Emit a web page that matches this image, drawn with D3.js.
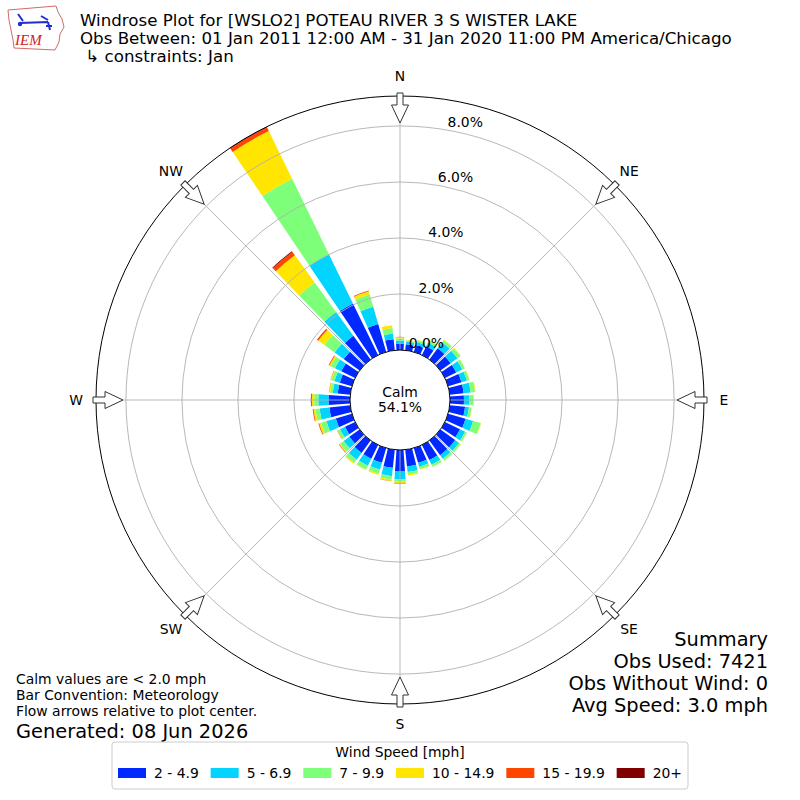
<!DOCTYPE html>
<html>
<head>
<meta charset="utf-8">
<script src="https://cdn.jsdelivr.net/npm/d3@7"></script>
<style>
	body { margin: 0; background: white; }
	text { font-family: "DejaVu Sans", sans-serif; }
</style>
</head>
<body>
<svg id="rose"></svg>
<script>
// direction bin centres, degrees (meteorological, clockwise from N)
const directions = [0, 10, 20, 30, 40, 50, 60, 70, 80, 90, 100, 110, 120, 130, 140, 150, 160, 170,
	180, 190, 200, 210, 220, 230, 240, 250, 260, 270, 280, 290, 300, 310, 320, 330, 340, 350];

const speedBins = ["2 - 4.9", "5 - 6.9", "7 - 9.9", "10 - 14.9", "15 - 19.9", "20+"];
const binColors = ["#0028ff", "#00d4ff", "#7dff7a", "#ffe500", "#ff4600", "#800000"];

// percent of observations, per direction, per speed bin
const speed2to5 = [0.22, 0.22, 0.26, 0.35, 0.5, 0.45, 0.45, 0.5, 0.5, 0.5, 0.55, 0.65, 0.6, 0.65, 0.65, 0.6, 0.55, 0.6,
	0.77, 0.65, 0.55, 0.55, 0.55, 0.45, 0.4, 0.6, 0.75, 0.77, 0.45, 0.45, 0.55, 0.7, 1.05, 2.05, 1.04, 0.4];
const speed5to7 = [0.12, 0.09, 0.11, 0.15, 0.26, 0.3, 0.24, 0.2, 0.25, 0.2, 0.14, 0.28, 0.2, 0.17, 0.16, 0.19, 0.15, 0.2,
	0.28, 0.3, 0.25, 0.28, 0.3, 0.25, 0.2, 0.35, 0.35, 0.36, 0.18, 0.2, 0.25, 0.4, 1.05, 1.95, 0.64, 0.2];
const speed7to10 = [0.08, 0.05, 0.06, 0.08, 0.1, 0.13, 0.1, 0.09, 0.16, 0.14, 0.09, 0.28, 0.07, 0.07, 0.08, 0.08, 0.08, 0.08,
	0.08, 0.12, 0.15, 0.15, 0.15, 0.17, 0.1, 0.2, 0.15, 0.15, 0.09, 0.1, 0.17, 0.45, 1.3, 3.0, 0.46, 0.2];
const speed10to15 = [0.04, 0.02, 0.02, 0.02, 0.02, 0.02, 0.01, 0.01, 0.02, 0.01, 0.01, 0.02, 0.01, 0.01, 0.01, 0.01, 0.02, 0.05,
	0.05, 0.05, 0.05, 0.02, 0.03, 0.03, 0.01, 0.07, 0.07, 0.08, 0.04, 0.04, 0.05, 0.27, 1.2, 1.9, 0.11, 0.1];
const speed15to20 = [0.01, 0, 0, 0, 0, 0, 0, 0, 0, 0, 0, 0, 0, 0, 0, 0, 0, 0,
	0.02, 0.01, 0, 0, 0, 0.02, 0.01, 0.03, 0.03, 0.03, 0.01, 0.01, 0.03, 0.06, 0.15, 0.15, 0.03, 0];
const speed20up = [0, 0, 0, 0, 0, 0, 0, 0, 0, 0, 0, 0, 0, 0, 0, 0, 0, 0,
	0, 0, 0, 0, 0, 0, 0, 0, 0, 0.01, 0, 0, 0, 0, 0.03, 0.02, 0, 0];

const ringTicks = [0, 2, 4, 6, 8];
const compassLabels = ["N", "NE", "E", "SE", "S", "SW", "W", "NW"];
const compassAngles = [0, 45, 90, 135, 180, 225, 270, 315];

const titleLines = [
	"Windrose Plot for [WSLO2] POTEAU RIVER 3 S WISTER LAKE",
	"Obs Between: 01 Jan 2011 12:00 AM - 31 Jan 2020 11:00 PM America/Chicago",
	"\u00a0\u21b3 constraints: Jan"
];
const calmPercent = "54.1%";
const notes = ["Calm values are < 2.0 mph", "Bar Convention: Meteorology", "Flow arrows relative to plot center."];
const generated = "Generated: 08 Jun 2026";
const summary = ["Summary", "Obs Used: 7421", "Obs Without Wind: 0", "Avg Speed: 3.0 mph"];

let width = 800;
let height = 800;
const cx = 400;
const cy = 400;
const calmRadius = 50;
const outerRadius = 304;
const opening = 8; // degrees of a 10 degree bin
const small = 13.9; // 10pt
const large = 19.4; // 14pt

const series = [speed2to5, speed5to7, speed7to10, speed10to15, speed15to20, speed20up];
const rows = directions.map((dir, i) => {
	var row = { dir: dir };
	speedBins.forEach((b, j) => (row[b] = series[j][i]));
	return row;
});
const stacked = d3.stack().keys(speedBins)(rows);
const rmax = d3.max(stacked[stacked.length - 1], (d) => d[1]);

const r = d3.scaleLinear().domain([0, rmax]).range([calmRadius, outerRadius]);
const rad = (deg) => (deg * Math.PI) / 180;

const svg = d3.select("#rose").attr("width", width).attr("height", height);

// IEM logo (rough)
const logo = svg.append("g");
logo.append("path")
	.attr("d", "M8,10 L56,6 L58,12 L62,19 L64,27 L60,34 L59,42 L55,50 L14,48 L13,40 L11,30 L9,20 Z")
	.attr("fill", "none").attr("stroke", "#d46a6a").attr("stroke-width", 1);
logo.append("path")
	.attr("d", "M20,23 L48,22 M18,14 L23,21 M41,16 L48,20 M48,22 L50,30 M46,26 L52,26")
	.attr("fill", "none").attr("stroke", "#1f2fcf").attr("stroke-width", 2);
logo.append("circle").attr("cx", 20).attr("cy", 24).attr("r", 2.2).attr("fill", "#1f2fcf");
logo.append("text").attr("x", 15).attr("y", 45)
	.style("font-family", "Liberation Serif").style("font-style", "italic")
	.attr("font-size", 15).attr("fill", "#d42020").text("IEM");

// title
svg.append("g").selectAll("text").data(titleLines).enter().append("text")
	.attr("x", 80)
	.attr("y", (d, i) => 26 + i * 18)
	.attr("font-size", 16.67)
	.text((d) => d);

const rose = svg.append("g").attr("transform", `translate(${cx},${cy})`);

// bars
const arc = d3.arc();
rose.append("g")
	.selectAll("g")
	.data(stacked)
	.enter()
	.append("g")
	.attr("fill", (d, i) => binColors[i])
	.selectAll("path")
	.data((d) => d.filter((e) => e[1] > e[0]))
	.enter()
	.append("path")
	.attr("d", (d) =>
		arc({
			innerRadius: r(d[0]),
			outerRadius: r(d[1]),
			startAngle: rad(d.data.dir - opening / 2),
			endAngle: rad(d.data.dir + opening / 2),
		})
	);

// grid, drawn over the bars
const grid = rose.append("g").attr("fill", "none").attr("stroke", "#b0b0b0").attr("stroke-width", 0.9);
grid.selectAll("circle")
	.data(ringTicks.filter((t) => t > 0))
	.enter()
	.append("circle")
	.attr("r", (t) => r(t));
grid.selectAll("line")
	.data(compassAngles)
	.enter()
	.append("line")
	.attr("x1", (a) => calmRadius * Math.sin(rad(a)))
	.attr("y1", (a) => -calmRadius * Math.cos(rad(a)))
	.attr("x2", (a) => outerRadius * Math.sin(rad(a)))
	.attr("y2", (a) => -outerRadius * Math.cos(rad(a)));

rose.append("circle").attr("r", outerRadius).attr("fill", "none").attr("stroke", "black").attr("stroke-width", 1);

// calm circle
rose.append("circle").attr("r", calmRadius).attr("fill", "white").attr("stroke", "black").attr("stroke-width", 1);
rose.append("text").attr("y", -3).attr("text-anchor", "middle").attr("font-size", small).text("Calm");
rose.append("text").attr("y", 12).attr("text-anchor", "middle").attr("font-size", small).text(calmPercent);

// ring labels
rose.append("g").selectAll("text").data(ringTicks).enter().append("text")
	.attr("x", (t) => r(t) * Math.sin(rad(10)))
	.attr("y", (t) => -r(t) * Math.cos(rad(10)) - 3)
	.attr("font-size", small)
	.text((t) => t.toFixed(1) + "%");

// flow arrows pointing to the centre
const ro = outerRadius;
const arrowPts = [[-3, -ro - 3], [3, -ro - 3], [3, -ro + 9], [8.5, -ro + 9], [0, -ro + 27], [-8.5, -ro + 9], [-3, -ro + 9]];
rose.append("g").selectAll("path").data(compassAngles).enter().append("path")
	.attr("d", "M" + arrowPts.join("L") + "Z")
	.attr("transform", (a) => `rotate(${a})`)
	.attr("fill", "white")
	.attr("stroke", "#333")
	.attr("stroke-width", 1);

// compass labels
rose.append("g").selectAll("text").data(compassAngles).enter().append("text")
	.attr("x", (a) => 324 * Math.sin(rad(a)))
	.attr("y", (a) => -324 * Math.cos(rad(a)) + 5)
	.attr("text-anchor", "middle")
	.attr("font-size", small)
	.text((a, i) => compassLabels[i]);

// notes, bottom left
svg.append("g").selectAll("text").data(notes).enter().append("text")
	.attr("x", 16)
	.attr("y", (d, i) => 684 + i * 16)
	.attr("font-size", small)
	.text((d) => d);
svg.append("text").attr("x", 16).attr("y", 738).attr("font-size", large).text(generated);

// summary, bottom right
svg.append("g").selectAll("text").data(summary).enter().append("text")
	.attr("x", 768)
	.attr("y", (d, i) => 646 + i * 22)
	.attr("text-anchor", "end")
	.attr("font-size", large)
	.text((d) => d);

// legend
const legendX0 = 112;
const legendX1 = 688;
const legend = svg.append("g");
legend.append("rect")
	.attr("x", legendX0).attr("y", 742).attr("width", legendX1 - legendX0).attr("height", 47).attr("rx", 3)
	.attr("fill", "white").attr("stroke", "#cccccc");
legend.append("text").attr("x", 400).attr("y", 757).attr("text-anchor", "middle").attr("font-size", small).text("Wind Speed [mph]");
const items = legend.selectAll("g.item").data(speedBins).enter().append("g").attr("class", "item");
items.append("rect").attr("y", 768).attr("width", 28).attr("height", 10).attr("fill", (d, i) => binColors[i]);
items.append("text").attr("x", 36).attr("y", 778).attr("font-size", small).text((d) => d);
const itemW = items.nodes().map((n) => 36 + n.querySelector("text").getComputedTextLength());
const gap = (legendX1 - legendX0 - 12 - d3.sum(itemW)) / (speedBins.length - 1);
let xpos = legendX0 + 6;
items.attr("transform", (d, i) => {
	const x = xpos;
	xpos += itemW[i] + gap;
	return `translate(${x},0)`;
});
</script>
</body>
</html>
